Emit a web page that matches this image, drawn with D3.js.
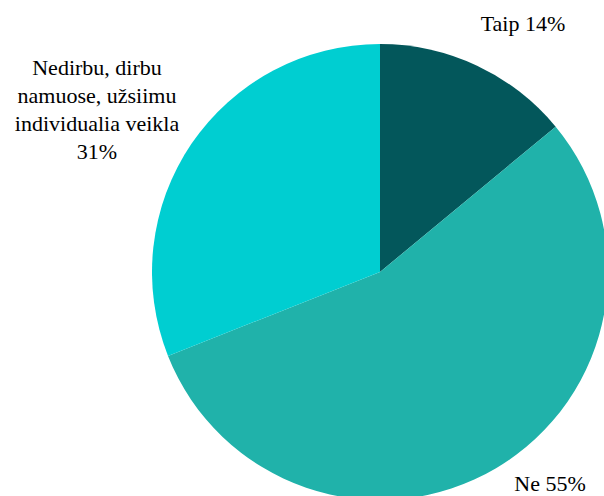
<!DOCTYPE html>
<html><head><meta charset="utf-8">
<script src="https://cdn.jsdelivr.net/npm/d3@7"></script>
</head><body style="margin:0;background:#fff">
<svg id="c" width="604" height="496" style="display:block"></svg>
<script>
const categories = ["Taip", "Ne", "Nedirbu, dirbu namuose, užsiimu individualia veikla"];
const values = [14, 55, 31];
const colors = ["#03575B", "#20B2AA", "#00CED1"];
const labelLines = [["Taip 14%"], ["Ne 55%"], ["Nedirbu, dirbu", "namuose, užsiimu", "individualia veikla", "31%"]];

const svg = d3.select("#c");
const cx = 380, cy = 272, r = 228;
const pie = d3.pie().sort(null).value(d => d)(values);
const arc = d3.arc().innerRadius(0).outerRadius(r);
const g = svg.append("g").attr("transform", `translate(${cx},${cy})`);
g.selectAll("path").data(pie).join("path")
  .attr("d", arc).attr("fill", (d, i) => colors[i]);

const labelPos = [
  {x: 523, y: 31},
  {x: 550, y: 491},
  {x: 97, y: 75}
];
labelLines.forEach((lines, i) => {
  lines.forEach((l, j) => {
    const t = svg.append("text")
      .attr("x", labelPos[i].x)
      .attr("y", labelPos[i].y + j * 28)
      .style("font-family", '"Liberation Serif"')
      .style("font-size", "22px")
      .text(l);
    const w = t.node().getComputedTextLength();
    t.attr("x", labelPos[i].x - w / 2);
  });
});
</script>
</body></html>
